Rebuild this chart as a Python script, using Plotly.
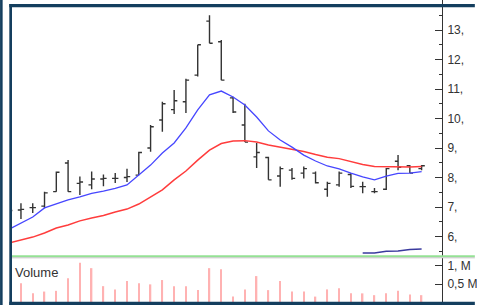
import plotly.graph_objects as go

# ---- data ----
bars = list(range(36))
open_ = [6.85, 6.90, 6.98, 7.03, 7.52, 8.49, 7.80, 7.75, 7.95, 7.97, 8.00, 8.08,
         9.00, 9.95, 10.30, 10.57, 11.47, 13.30, 12.60, 10.70, 9.78, 8.70, 8.68, 8.05,
         8.25, 8.15, 8.15, 7.60, 7.75, 8.10, 7.69, 7.52, 7.60, 8.55, 8.40, 8.30]
high = [6.95, 7.13, 7.13, 7.52, 8.20, 8.59, 8.03, 8.20, 8.10, 8.15, 8.30, 8.87,
        9.78, 10.57, 10.97, 11.35, 12.50, 13.50, 12.66, 10.74, 10.50, 9.17, 8.70, 8.37,
        8.32, 8.37, 8.20, 7.86, 8.20, 8.15, 7.86, 7.64, 8.32, 8.76, 8.42, 8.42]
low = [6.78, 6.59, 6.80, 6.96, 7.52, 7.52, 7.41, 7.60, 7.70, 7.81, 7.85, 8.08,
       8.87, 9.55, 10.15, 10.19, 11.42, 12.55, 11.30, 10.19, 9.20, 8.32, 7.92, 7.69,
       7.92, 7.97, 7.80, 7.35, 7.69, 7.64, 7.47, 7.47, 7.58, 8.25, 8.15, 8.25]
close = [6.88, 6.92, 6.98, 7.48, 8.18, 7.52, 7.85, 7.95, 7.97, 7.97, 8.03, 8.85,
         9.72, 10.50, 10.60, 11.30, 12.50, 12.55, 11.30, 10.22, 9.20, 8.85, 7.92, 8.30,
         7.97, 8.30, 7.82, 7.80, 8.15, 7.70, 7.69, 7.52, 8.30, 8.35, 8.15, 8.40]
ma_short = [6.25, 6.46, 6.66, 6.97, 7.10, 7.24, 7.34, 7.46, 7.54, 7.63, 7.75, 8.07,
            8.42, 8.83, 9.17, 9.68, 10.29, 10.80, 10.93, 10.73, 10.46, 10.05, 9.58, 9.27,
            9.03, 8.76, 8.56, 8.39, 8.29, 8.15, 8.02, 7.92, 8.05, 8.14, 8.15, 8.20]
ma_long = [5.78, 5.88, 5.98, 6.12, 6.29, 6.39, 6.53, 6.63, 6.71, 6.83, 6.93, 7.10,
           7.34, 7.58, 7.92, 8.22, 8.59, 8.93, 9.15, 9.24, 9.25, 9.20, 9.10, 9.03,
           8.97, 8.88, 8.78, 8.69, 8.64, 8.54, 8.44, 8.37, 8.36, 8.36, 8.36, 8.37]
indicator = [None] * 30 + [5.44, 5.44, 5.50, 5.51, 5.56, 5.58]
volume = [0.30, 0.52, 0.24, 0.29, 0.31, 0.66, 1.09, 0.94, 0.44, 0.35, 0.58, 0.52,
          0.49, 0.61, 0.44, 0.44, 0.33, 0.94, 0.91, 0.15, 0.35, 0.72, 0.33, 0.58,
          0.29, 0.29, 0.15, 0.35, 0.38, 0.24, 0.24, 0.19, 0.24, 0.31, 0.21, 0.19]
price_ticks = [6, 7, 8, 9, 10, 11, 12, 13, 14]
price_ticktext = ["6,", "7,", "8,", "9,", "10,", "11,", "12,", "13,", "14,"]
vol_ticks = [0, 0.5, 1.0]
vol_ticktext = ["0", "0,5 M", "1, M"]

W, H = 477, 305
L, R, T, B = 12, 444, 0, 302  # plot area in pixels


def px(x):
    return (x - L) / (R - L)


def py(y):
    return (B - y) / (B - T)


fig = go.Figure()
fig.add_trace(go.Scatter(x=bars, y=ma_long, mode="lines",
                         line=dict(color="#ff3c3c", width=1.5), hoverinfo="skip"))
fig.add_trace(go.Scatter(x=bars, y=ma_short, mode="lines",
                         line=dict(color="#4646ff", width=1.3), hoverinfo="skip"))
fig.add_trace(go.Scatter(x=bars, y=indicator, mode="lines",
                         line=dict(color="#3a3a9e", width=1.5), hoverinfo="skip"))
fig.add_trace(go.Ohlc(x=bars, open=open_, high=high, low=low, close=close,
                      tickwidth=0.27,
                      increasing=dict(line=dict(color="#333333", width=1.4)),
                      decreasing=dict(line=dict(color="#333333", width=1.4)),
                      hoverinfo="skip"))
fig.add_trace(go.Bar(x=bars, y=volume, yaxis="y2", width=0.12,
                     marker=dict(color="#ffb2b2", line=dict(width=0)), hoverinfo="skip"))

axis_col = "#333333"
fig.update_layout(
    width=W, height=H,
    margin=dict(l=L, r=W - R, t=T, b=H - B, pad=0),
    paper_bgcolor="white", plot_bgcolor="white",
    showlegend=False,
    font=dict(family="Liberation Sans, Arial, sans-serif", size=12, color=axis_col),
    xaxis=dict(range=[0.24, 36.73], showticklabels=False, showgrid=False,
               zeroline=False, showline=False, ticks="", rangeslider=dict(visible=False),
               fixedrange=True),
    yaxis=dict(domain=[py(256), 1], range=[5.339, 14.017], side="right",
               tickvals=price_ticks, ticktext=price_ticktext,
               ticks="inside", ticklen=7, tickcolor=axis_col, tickwidth=1,
               minor=dict(dtick=0.5, tick0=0, ticks="inside", ticklen=3, tickcolor=axis_col),
               showline=True, linecolor=axis_col, linewidth=1,
               showgrid=False, zeroline=False, ticklabelstandoff=2,
               tickfont=dict(size=12, color=axis_col)),
    yaxis2=dict(domain=[0, py(258)], range=[0, 1.222], side="right", anchor="x",
                tickvals=vol_ticks, ticktext=vol_ticktext,
                ticks="inside", ticklen=7, tickcolor=axis_col, tickwidth=1,
                showline=True, linecolor=axis_col, linewidth=1,
                showgrid=False, zeroline=False, ticklabelstandoff=2,
                tickfont=dict(size=12, color=axis_col)),
)

frame = "#143e5e"
shapes = [
    # separator between panes
    dict(type="line", xref="paper", yref="paper", x0=px(12), x1=px(W), y0=py(256.2), y1=py(256.2),
         line=dict(color="#94e294", width=2)),
    dict(type="line", xref="paper", yref="paper", x0=px(12), x1=px(W), y0=py(257.8), y1=py(257.8),
         line=dict(color="#c4c4c4", width=1)),
    # frame
    dict(type="rect", xref="paper", yref="paper", x0=px(0), x1=px(2.6), y0=py(H), y1=py(0),
         fillcolor=frame, line=dict(width=0)),
    dict(type="rect", xref="paper", yref="paper", x0=px(9.3), x1=px(12), y0=py(H), y1=py(4),
         fillcolor=frame, line=dict(width=0)),
    dict(type="rect", xref="paper", yref="paper", x0=px(9.3), x1=px(W), y0=py(7.3), y1=py(4),
         fillcolor=frame, line=dict(width=0)),
    dict(type="rect", xref="paper", yref="paper", x0=px(9.3), x1=px(W), y0=py(H), y1=py(301.7),
         fillcolor=frame, line=dict(width=0)),
]
fig.update_layout(shapes=shapes)

fig.add_annotation(text="Volume", xref="paper", yref="paper", x=px(13), y=py(272.5),
                   xanchor="left", yanchor="middle", showarrow=False,
                   font=dict(size=13, color=axis_col,
                             family="Liberation Sans, Arial, sans-serif"))

fig.write_html("out.html", config=dict(displayModeBar=False),
               post_script="document.body.style.margin='0';document.body.style.overflow='hidden';")
